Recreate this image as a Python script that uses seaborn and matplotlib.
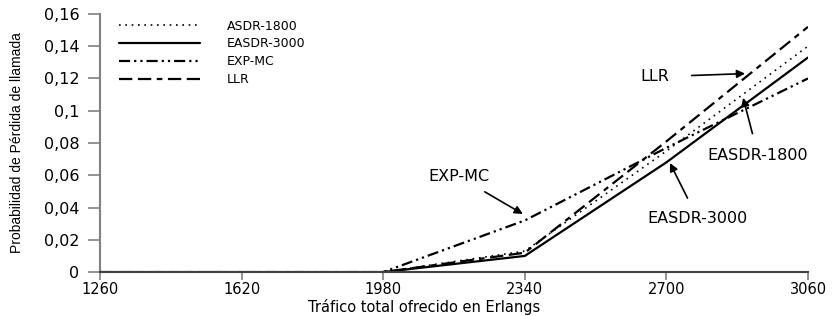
import matplotlib
matplotlib.use("Agg")
import matplotlib.pyplot as plt
import seaborn as sns
import pandas as pd
from matplotlib.ticker import FuncFormatter

traffic = [1260, 1620, 1980, 2340, 2700, 3060]
asdr_1800 = [0, 0, 0, 0.013, 0.075, 0.140]
easdr_3000 = [0, 0, 0, 0.010, 0.068, 0.133]
exp_mc = [0, 0, 0, 0.032, 0.077, 0.120]
llr = [0, 0, 0, 0.012, 0.081, 0.152]
series_names = ["ASDR-1800", "EASDR-3000", "EXP-MC", "LLR"]
x_ticks = [1260, 1620, 1980, 2340, 2700, 3060]
y_ticks = [0, 0.02, 0.04, 0.06, 0.08, 0.1, 0.12, 0.14, 0.16]

sns.set_theme(style="ticks")
plt.rcParams['font.family'] = ['DejaVu Sans']
plt.rcParams['text.color'] = 'black'
plt.rcParams['axes.labelcolor'] = 'black'

fig = plt.figure(figsize=(8.33, 3.16), dpi=100)
ax = fig.add_axes([0.12, 0.139, 0.85, 0.817])

styles = [
    dict(linestyle=(0, (1, 2.8)), linewidth=1.2),
    dict(linestyle='-', linewidth=1.6),
    dict(linestyle=(0, (5, 1.8, 1, 1.8, 1, 1.8)), linewidth=1.6),
    dict(linestyle=(0, (6, 2.5, 6, 2.5, 2.5, 2.5)), linewidth=1.6),
]
for name, vals, st in zip(series_names, [asdr_1800, easdr_3000, exp_mc, llr], styles):
    df = pd.DataFrame({"x": traffic, "y": vals})
    sns.lineplot(data=df, x="x", y="y", ax=ax, color="black", label=name, **st)

ax.set_xlim(1260, 3060)
ax.set_ylim(0, 0.16)
ax.set_xticks(x_ticks)
ax.set_yticks(y_ticks)
ax.yaxis.set_major_formatter(FuncFormatter(lambda v, p: ("%g" % round(v, 3)).replace('.', ',')))
ax.tick_params(axis='both', colors='#808080', labelcolor='black', width=1.2)
ax.tick_params(axis='y', labelsize=11.5, length=9, pad=6)
ax.tick_params(axis='x', labelsize=10.5, length=6, pad=1)
for s in ['top', 'right']:
    ax.spines[s].set_visible(False)
ax.spines['left'].set_color('#808080')
ax.spines['left'].set_linewidth(1.5)
ax.spines['bottom'].set_color('#404040')
ax.spines['bottom'].set_linewidth(1.5)

ax.set_xlabel("Tráfico total ofrecido en Erlangs", fontsize=10.5, color='black')
ax.xaxis.set_label_coords(0.458, -0.106)
ax.set_ylabel("Probabilidad de Pérdida de llamada", fontsize=10, family=['Liberation Sans'], color='black')
ax.yaxis.set_label_coords(-0.107, 0.5)

leg = ax.legend(loc='upper left', bbox_to_anchor=(0.02, 0.997), frameon=False, fontsize=9,
                handlelength=6.5, handletextpad=2.1, labelspacing=0.38, borderaxespad=0,
                labelcolor='black')

arrow = dict(arrowstyle='-|>', color='black', lw=1.2, mutation_scale=12)
ax.annotate("LLR", xy=(2900, 0.123), xytext=(2633, 0.121), fontsize=11.5, color='black',
            ha='left', va='center', arrowprops=dict(arrow, shrinkA=14, shrinkB=0))
ax.annotate("EASDR-1800", xy=(2895, 0.108), xytext=(2933, 0.0725), fontsize=11.5, color='black',
            ha='center', va='center', arrowprops=dict(arrow, shrinkA=8, shrinkB=0))
ax.annotate("EXP-MC", xy=(2335, 0.036), xytext=(2173, 0.059), fontsize=11.5, color='black',
            ha='center', va='center', arrowprops=dict(arrow, shrinkA=6, shrinkB=0))
ax.annotate("EASDR-3000", xy=(2709, 0.0676), xytext=(2780, 0.033), fontsize=11.5, color='black',
            ha='center', va='center', arrowprops=dict(arrow, shrinkA=8, shrinkB=0))

fig.savefig("out.png", dpi=100)
